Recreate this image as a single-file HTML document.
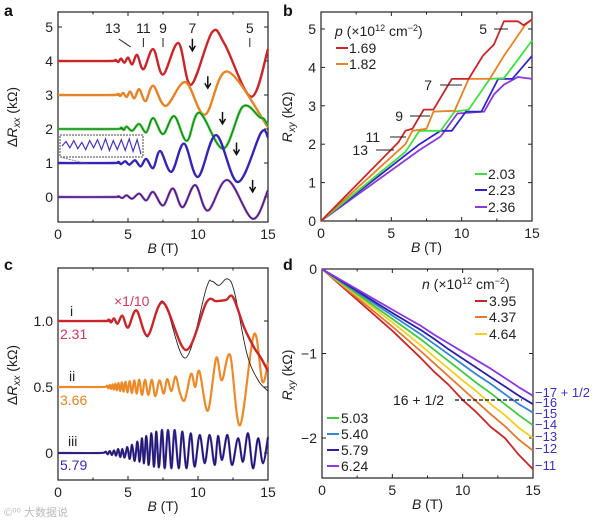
<!DOCTYPE html>
<html><head><meta charset="utf-8">
<style>
html,body{margin:0;padding:0;background:#fff;}
svg{display:block;font-family:"Liberation Sans",Arial,sans-serif;}
.tk{font-size:14px;fill:#222;}
.ttl{font-size:14px;fill:#222;}
.lt{font-size:16px;font-weight:bold;fill:#111;}
</style></head>
<body>
<svg id="fig" width="600" height="522" viewBox="0 0 600 522">
  <text class="lt" x="4" y="16">a</text>
  <text class="lt" x="283" y="16">b</text>
  <text class="lt" x="4" y="270">c</text>
  <text class="lt" x="283" y="270">d</text>
  <g id="ga"></g>
  <g id="gb"></g>
  <g id="gc"></g>
  <g id="gd"></g>
  <text x="4" y="516" font-size="11" fill="#bbb" font-family="'Liberation Sans','Noto Sans CJK SC',sans-serif">©⁰⁰ 大数据说</text>
</svg>
<script>
// ---------- DATA ----------
// Panel a: ΔRxx (kΩ, with offsets) vs B (T), extrema points
const aRed    = [[0,4],[3.8,4],[4.1,4.03],[4.3,3.97],[4.5,4.07],[4.75,3.95],[5.0,4.1],[5.3,3.9],[5.65,4.18],[6.1,3.76],[6.8,4.35],[7.5,3.6],[8.6,4.53],[9.5,3.3],[11.0,4.84],[11.9,4.5],[13.8,2.95],[15,4.35]];
const aOrange = [[0,3],[4.0,3],[4.25,3.03],[4.45,2.97],[4.65,3.06],[4.9,2.94],[5.15,3.1],[5.45,2.9],[5.8,3.17],[6.25,2.82],[6.8,3.27],[7.7,2.68],[9.1,3.38],[10.5,2.42],[12.1,3.69],[15,2.05]];
const aGreen  = [[0,2],[4.2,2],[4.5,2.04],[4.7,1.97],[4.9,2.07],[5.3,1.95],[5.8,2.15],[6.3,1.9],[6.8,2.32],[7.5,1.85],[8.3,2.38],[9.2,1.65],[10.1,2.48],[11.8,1.42],[13.2,2.66],[14.4,2.35],[14.7,2.3],[15,2.1]];
const aBlue   = [[0,1],[4.0,1],[4.3,1.03],[4.5,0.97],[4.8,1.05],[5.1,0.95],[5.5,1.08],[5.9,0.9],[6.3,1.12],[6.8,0.85],[7.3,1.35],[8.1,0.74],[9.0,1.57],[10.0,0.59],[11.3,1.82],[12.85,0.44],[14.5,1.89],[15,1.75]];
const aPurple = [[0,0],[4.0,0],[4.3,0.02],[4.6,-0.03],[4.9,0.05],[5.3,-0.05],[5.8,0.1],[6.3,-0.1],[6.8,0.15],[7.5,-0.25],[8.2,0.25],[8.9,-0.3],[9.8,0.35],[10.7,-0.4],[12.1,0.5],[13.9,-0.64],[15,0.2]];
const aInset  = [0.5,0.75,0.4,0.8,0.35,0.7,0.3,0.8,0.4,0.85,0.3,0.9,0.25,0.8,0.3,0.85,0.25,0.9,0.2,0.85,0.05];
const aNuLabels = ["13","11","9","7","5"];
const aNuB      = [4.2,6.1,7.5,9.6,13.7];
const aArrowB   = [9.6,10.7,11.75,12.75,13.9];
const aArrowV   = [4.3,3.2,2.15,1.25,0.15];

// Panel b: Rxy (kΩ) vs B
const bB = [0,5.5,6.0,6.5,7.3,8.0,9.3,10.5,11.5,12.3,13.0,14.0,14.4,15];
const bRed = [0,2.05,2.35,2.4,2.9,2.9,3.7,3.7,4.3,4.6,5.2,5.2,5.1,5.25];
const bB2 = [0,6.0,6.5,7.5,8.0,9.5,10.5,12.0,13.0,14.5,15];
const bOrange = [0,2.0,2.35,2.4,2.85,2.87,3.7,3.7,4.3,5.1,5.25];
const bB3 = [0,6.0,7.0,8.5,9.5,10.5,12.0,13.0,14.0,15];
const bGreen = [0,1.8,2.35,2.35,2.85,2.9,3.7,3.72,4.2,4.7];
const bB4 = [0,7.0,8.5,9.3,10.3,11.4,12.6,13.6,15];
const bBlue = [0,2.0,2.35,2.35,2.85,2.85,3.7,3.7,4.3];
const bB5 = [0,7.0,8.5,9.7,11.6,12.3,13.0,14.0,15];
const bPurple = [0,1.85,2.2,2.8,2.85,3.3,3.55,3.75,3.7];
const bLegend = ["1.69","1.82","2.03","2.23","2.36"];

// Panel c
const cI   = [[0,1],[3.4,1],[3.6,1.01],[3.8,0.99],[4.0,1.02],[4.25,0.98],[4.6,1.04],[5.0,0.95],[5.6,1.08],[6.4,0.89],[7.5,1.14],[9.15,0.78],[10.6,1.14],[11.3,1.15],[12.0,1.16],[12.5,1.18],[13.3,0.95],[14.0,0.8],[14.5,0.72],[15,0.62]];
const cITh = [[0,1],[3.4,1],[3.6,1.01],[3.8,0.99],[4.0,1.02],[4.25,0.98],[4.6,1.04],[5.0,0.95],[5.6,1.08],[6.4,0.88],[7.5,1.15],[9.1,0.72],[10.6,1.25],[11.0,1.3],[11.5,1.27],[12.1,1.32],[12.6,1.22],[13.5,0.75],[14.3,0.55],[15,0.47]];
const cII  = [[0,0.5],[3.2,0.5],[3.5,0.51],[3.6,0.49],[3.7,0.515],[3.8,0.485],[3.9,0.52],[4.0,0.48],[4.1,0.525],[4.2,0.475],[4.32,0.53],[4.44,0.47],[4.56,0.535],[4.68,0.465],[4.82,0.54],[4.96,0.46],[5.12,0.545],[5.28,0.455],[5.45,0.55],[5.62,0.45],[5.8,0.555],[6.0,0.44],[6.22,0.555],[6.45,0.44],[6.7,0.555],[6.95,0.43],[7.25,0.55],[7.55,0.45],[7.8,0.56],[8.1,0.47],[8.4,0.58],[8.7,0.46],[9.05,0.4],[9.5,0.6],[9.8,0.5],[10.1,0.62],[10.7,0.32],[11.3,0.72],[11.7,0.55],[12.3,0.74],[13.0,0.21],[14.0,0.9],[14.6,0.54],[15,0.69]];
const cIII = [[0,0],[3.0,0],[3.4,0.01],[3.55,-0.01],[3.7,0.015],[3.85,-0.015],[4.0,0.02],[4.15,-0.02],[4.3,0.03],[4.45,-0.03],[4.6,0.03],[4.76,-0.035],[4.95,0.045],[5.12,-0.045],[5.29,0.061],[5.48,-0.06],[5.67,0.086],[5.83,-0.066],[6.0,0.111],[6.14,-0.078],[6.31,0.129],[6.48,-0.091],[6.67,0.149],[6.86,-0.104],[7.02,0.162],[7.21,-0.109],[7.43,0.174],[7.62,-0.116],[7.86,0.174],[8.1,-0.116],[8.33,0.174],[8.62,-0.116],[8.88,0.162],[9.17,-0.116],[9.48,0.149],[9.76,-0.104],[10.12,0.136],[10.48,-0.078],[10.83,0.136],[11.19,-0.091],[11.43,0.129],[11.71,-0.053],[12.1,0.136],[12.43,-0.091],[12.86,0.111],[13.21,-0.066],[13.57,0.149],[13.93,-0.116],[14.29,0.111],[14.64,-0.078],[15,0.12]];

// Panel d
const dB = [0,5,7,8,9,10,11,12,13,14,15];
const dRed    = [0,-0.73,-1.05,-1.22,-1.37,-1.55,-1.7,-1.87,-2.0,-2.2,-2.37];
const dOrange = [0,-0.68,-0.97,-1.12,-1.27,-1.42,-1.57,-1.72,-1.86,-2.02,-2.15];
const dYellow = [0,-0.63,-0.9,-1.04,-1.18,-1.32,-1.45,-1.6,-1.73,-1.88,-2.0];
const dGreen  = [0,-0.59,-0.83,-0.96,-1.09,-1.22,-1.35,-1.47,-1.6,-1.73,-1.85];
const dLBlue  = [0,-0.55,-0.77,-0.89,-1.01,-1.13,-1.25,-1.36,-1.48,-1.6,-1.7];
const dDBlue  = [0,-0.52,-0.72,-0.83,-0.95,-1.06,-1.17,-1.28,-1.39,-1.5,-1.6];
const dPurple = [0,-0.48,-0.67,-0.78,-0.88,-0.98,-1.08,-1.18,-1.29,-1.4,-1.5];
const dLegend = ["3.95","4.37","4.64","5.03","5.40","5.79","6.24"];
const dRightLabels = ["17 + 1/2","16","15","14","13","12","11"];

// ---------- HELPERS ----------
const NS="http://www.w3.org/2000/svg";
function mk(parent,tag,attrs,txt){const e=document.createElementNS(NS,tag);for(const k in attrs)e.setAttribute(k,attrs[k]);if(txt!==undefined)e.textContent=txt;parent.appendChild(e);return e;}
function scale(d0,d1,r0,r1){return v=>r0+(v-d0)*(r1-r0)/(d1-d0);}
function smoothPath(pts){
  let d=`M${pts[0][0].toFixed(1)},${pts[0][1].toFixed(1)}`;
  for(let i=0;i<pts.length-1;i++){
    const p0=pts[Math.max(0,i-1)],p1=pts[i],p2=pts[i+1],p3=pts[Math.min(pts.length-1,i+2)];
    const c1=[p1[0]+(p2[0]-p0[0])/6,p1[1]+(p2[1]-p0[1])/6];
    const c2=[p2[0]-(p3[0]-p1[0])/6,p2[1]-(p3[1]-p1[1])/6];
    d+=`C${c1[0].toFixed(1)},${c1[1].toFixed(1)} ${c2[0].toFixed(1)},${c2[1].toFixed(1)} ${p2[0].toFixed(1)},${p2[1].toFixed(1)}`;
  }
  return d;
}
function frame(g,x0,x1,y0,y1,xs,ys,yTicks,yFmt,xl,yl){
  const r=mk(g,'rect',{x:x0,y:y0,width:x1-x0,height:y1-y0,fill:'none',stroke:'#222','stroke-width':1.2});
  
  
  [0,5,10,15].forEach(v=>{
    const x=xs(v);
    mk(g,'line',{x1:x,x2:x,y1:y1,y2:y1-4,stroke:'#222'});
    mk(g,'line',{x1:x,x2:x,y1:y0,y2:y0+4,stroke:'#222'});
    const t=mk(g,'text',{x:x,y:y1+17,'text-anchor':'middle',class:'tk'},String(v));
    
    
  });
  [2.5,7.5,12.5].forEach(v=>{const x=xs(v);mk(g,'line',{x1:x,x2:x,y1:y1,y2:y1-2.5,stroke:'#222'});mk(g,'line',{x1:x,x2:x,y1:y0,y2:y0+2.5,stroke:'#222'});});
  yTicks.forEach(v=>{
    const y=ys(v);
    mk(g,'line',{x1:x0,x2:x0+4,y1:y,y2:y,stroke:'#222'});
    mk(g,'line',{x1:x1,x2:x1-4,y1:y,y2:y,stroke:'#222'});
    const t=mk(g,'text',{x:x0-5,y:y+5,'text-anchor':'end',class:'tk'},yFmt(v));
    
    
  });
  const xt=mk(g,'text',{x:(x0+x1)/2,y:y1+31,'text-anchor':'middle',class:'ttl'});
  
  
  mk(xt,'tspan',{'font-style':'italic'},'B');mk(xt,'tspan',{},' (T)');
  const yt=mk(g,'text',{x:xl,y:yl,'text-anchor':'middle',class:'ttl',transform:`rotate(-90 ${xl} ${yl})`});
  
  
  return yt;
}
function curve(g,pts,xs,ys,color,w,name){
  const p=mk(g,'path',{d:smoothPath(pts.map(q=>[xs(q[0]),ys(q[1])])),fill:'none',stroke:color,'stroke-width':w,'stroke-linejoin':'round'});
  
  
}
function poly(g,bs,vs,xs,ys,color,w,name){
  const p=mk(g,'polyline',{points:bs.map((b,i)=>xs(b).toFixed(1)+','+ys(vs[i]).toFixed(1)).join(' '),fill:'none',stroke:color,'stroke-width':w,'stroke-linejoin':'round'});
  
  
}

// ---------- PANEL A ----------
(function(){
  const g=document.getElementById('ga');
  const xs=scale(0,15,58,268), ys=scale(0,5,197,27);
  const yt=frame(g,58,268,12,222,xs,ys,[0,1,2,3,4,5],v=>String(v),17,117);
  mk(yt,'tspan',{},'Δ');mk(yt,'tspan',{'font-style':'italic'},'R');mk(yt,'tspan',{'font-style':'italic','font-size':'10',dy:'3'},'xx');mk(yt,'tspan',{dy:'-3'},' (kΩ)');
  curve(g,aRed,xs,ys,'#555',1,'curve-red-theory');
  curve(g,aRed,xs,ys,'#c8262a',2.4,'curve-red');
  curve(g,aOrange,xs,ys,'#e58325',2.4,'curve-orange');
  curve(g,aGreen,xs,ys,'#3bd03b',2.6,'curve-green');
  curve(g,aGreen,xs,ys,'#1f5a1f',0.8,'curve-green-theory');
  curve(g,aBlue,xs,ys,'#3325b8',2.4,'curve-blue');
  curve(g,aPurple,xs,ys,'#8a3ad0',2.4,'curve-purple');
  curve(g,aPurple,xs,ys,'#222',0.7,'curve-purple-theory');
  // inset
  const ir=mk(g,'rect',{x:60,y:135,width:83,height:22,fill:'#fff',stroke:'#444','stroke-width':1,'stroke-dasharray':'2,1'});
  
  
  const ix=scale(0,aInset.length-1,62,141), iy=scale(0,1,155,137);
  const ip=mk(g,'polyline',{points:aInset.map((v,i)=>ix(i).toFixed(1)+','+iy(v).toFixed(1)).join(' '),fill:'none',stroke:'#4535c0','stroke-width':1.2});
  
  
  mk(g,'line',{x1:60,y1:157,x2:88,y2:164,stroke:'#666','stroke-width':0.8,'stroke-dasharray':'2,1'});
  aNuLabels.forEach((s,i)=>{
    const x=xs(aNuB[i])+ (i===0?0:0);
    const t=mk(g,'text',{x:x-(i===0?4:0),y:33,'text-anchor':'middle',class:'tk'},s);
    
    
    if(i===0) mk(g,'line',{x1:xs(aNuB[0])+2,y1:39,x2:xs(5.2),y2:47,stroke:'#222'});
    else if(i<3||i===4) mk(g,'line',{x1:xs(aNuB[i]),y1:38,x2:xs(aNuB[i]),y2:47,stroke:'#222'});
  });
  aArrowB.forEach((b,i)=>{
    const x=xs(b),y=ys(aArrowV[i]);
    const a=mk(g,'path',{d:`M${x},${y-12}L${x},${y}M${x-3},${y-5}L${x},${y}L${x+3},${y-5}`,stroke:'#111','stroke-width':1.5,fill:'none'});
    
    
  });
})();

// ---------- PANEL B ----------
(function(){
  const g=document.getElementById('gb');
  const xs=scale(0,15,321,532), ys=scale(0,5,221,29);
  const yt=frame(g,321,532,12,221,xs,ys,[0,1,2,3,4,5],v=>String(v),292,117);
  mk(yt,'tspan',{'font-style':'italic'},'R');mk(yt,'tspan',{'font-style':'italic','font-size':'10',dy:'3'},'xy');mk(yt,'tspan',{dy:'-3'},' (kΩ)');
  poly(g,bB5,bPurple,xs,ys,'#8a3ad8',1.8,'curve-2.36');
  poly(g,bB4,bBlue,xs,ys,'#3325c8',1.8,'curve-2.23');
  poly(g,bB3,bGreen,xs,ys,'#40e040',1.8,'curve-2.03');
  poly(g,bB2,bOrange,xs,ys,'#e58325',1.8,'curve-1.82');
  poly(g,bB,bRed,xs,ys,'#c8262a',1.8,'curve-1.69');
  const lh=mk(g,'text',{x:335,y:36,class:'tk'});
  
  
  mk(lh,'tspan',{'font-style':'italic'},'p');mk(lh,'tspan',{},' (×10');mk(lh,'tspan',{'font-size':'9',dy:'-5'},'12');mk(lh,'tspan',{dy:'5'},' cm');mk(lh,'tspan',{'font-size':'9',dy:'-5'},'−2');mk(lh,'tspan',{dy:'5'},')');
  const cols=['#c8262a','#e58325','#40e040','#3325c8','#8a3ad8'];
  const lx=[336,336,475,475,475], ly=[48,64,174,190,207];
  bLegend.forEach((s,i)=>{
    mk(g,'line',{x1:lx[i],x2:lx[i]+12,y1:ly[i],y2:ly[i],stroke:cols[i],'stroke-width':2});
    const t=mk(g,'text',{x:lx[i]+13,y:ly[i]+5,class:'tk'},s);
    
    
  });
  const labs=[["5",487,29,494,508],["7",432,85,440,462],["9",403,116,410,430],["11",380,137,390,406],["13",368,150,376,394]];
  labs.forEach(l=>{
    const t=mk(g,'text',{x:l[1],y:l[2]+5,'text-anchor':'end',class:'tk'},l[0]);
    
    
    mk(g,'line',{x1:l[3],x2:l[4],y1:l[2],y2:l[2],stroke:'#222','stroke-width':1});
  });
})();

// ---------- PANEL C ----------
(function(){
  const g=document.getElementById('gc');
  const xs=scale(0,15,58,268), ys=scale(0,1,453,321);
  const yt=frame(g,58,268,268,480,xs,ys,[0,0.5,1],v=>v===0?'0':v.toFixed(1),17,375);
  mk(yt,'tspan',{},'Δ');mk(yt,'tspan',{'font-style':'italic'},'R');mk(yt,'tspan',{'font-style':'italic','font-size':'10',dy:'3'},'xx');mk(yt,'tspan',{dy:'-3'},' (kΩ)');
  curve(g,cIII,xs,ys,'#3a2ab0',2.2,'curve-iii');
  curve(g,cIII,xs,ys,'#111',0.6,'curve-iii-theory');
  curve(g,cII,xs,ys,'#ec8a2a',2.2,'curve-ii');
  curve(g,cITh,xs,ys,'#222',0.9,'curve-i-theory');
  curve(g,cI,xs,ys,'#c8262a',2.4,'curve-i');
  const T=(s,x,y,c,n)=>{const t=mk(g,'text',{x:x,y:y,class:'tk',fill:c,style:'fill:'+c},s);};
  T('i',70,316,'#222','label-i');T('2.31',60,339,'#d0385a','label-2.31');T('×1/10',114,306,'#d0385a','label-scale');
  T('ii',69,381,'#222','label-ii');T('3.66',60,405,'#e58325','label-3.66');
  T('iii',68,446,'#222','label-iii');T('5.79',60,470,'#3a2ab0','label-5.79');
})();

// ---------- PANEL D ----------
(function(){
  const g=document.getElementById('gd');
  const xs=scale(0,15,322,533), ys=scale(0,-1,269,353.5);
  const yt=frame(g,322,533,269,478,xs,ys,[0,-1,-2],v=>v===0?'0':'−'+Math.abs(v),292,375);
  mk(yt,'tspan',{'font-style':'italic'},'R');mk(yt,'tspan',{'font-style':'italic','font-size':'10',dy:'3'},'xy');mk(yt,'tspan',{dy:'-3'},' (kΩ)');
  const cols=['#c8262a','#e07a30','#f2d020','#40c840','#3585d5','#2a20a8','#8a38e0'];
  const ser=[dRed,dOrange,dYellow,dGreen,dLBlue,dDBlue,dPurple];
  ser.forEach((s,i)=>poly(g,dB,s,xs,ys,cols[i],1.8,'curve-'+dLegend[i]));
  const lh=mk(g,'text',{x:422,y:289,class:'tk'});
  
  
  mk(lh,'tspan',{'font-style':'italic'},'n');mk(lh,'tspan',{},' (×10');mk(lh,'tspan',{'font-size':'9',dy:'-5'},'12');mk(lh,'tspan',{dy:'5'},' cm');mk(lh,'tspan',{'font-size':'9',dy:'-5'},'−2');mk(lh,'tspan',{dy:'5'},')');
  const lx=[475,475,475,327,327,327,327], ly=[301,317,334,418,434,450,466];
  dLegend.forEach((s,i)=>{
    mk(g,'line',{x1:lx[i],x2:lx[i]+12,y1:ly[i],y2:ly[i],stroke:cols[i],'stroke-width':2});
    const t=mk(g,'text',{x:lx[i]+14,y:ly[i]+5,class:'tk'},s);
    
    
  });
  const ry=[392,402,413,424,436,448,465];
  dRightLabels.forEach((s,i)=>{
    const t=mk(g,'text',{x:535,y:ry[i]+5,'font-size':'13',fill:'#3a30c0',style:'fill:#3a30c0'},'−'+s);
    
    
  });
  const t=mk(g,'text',{x:393,y:405,class:'tk'},'16 + 1/2');
  
  
  mk(g,'line',{x1:455,x2:522,y1:400,y2:400,stroke:'#111','stroke-dasharray':'4,2','stroke-width':1.2});
})();
</script>
</body></html>
